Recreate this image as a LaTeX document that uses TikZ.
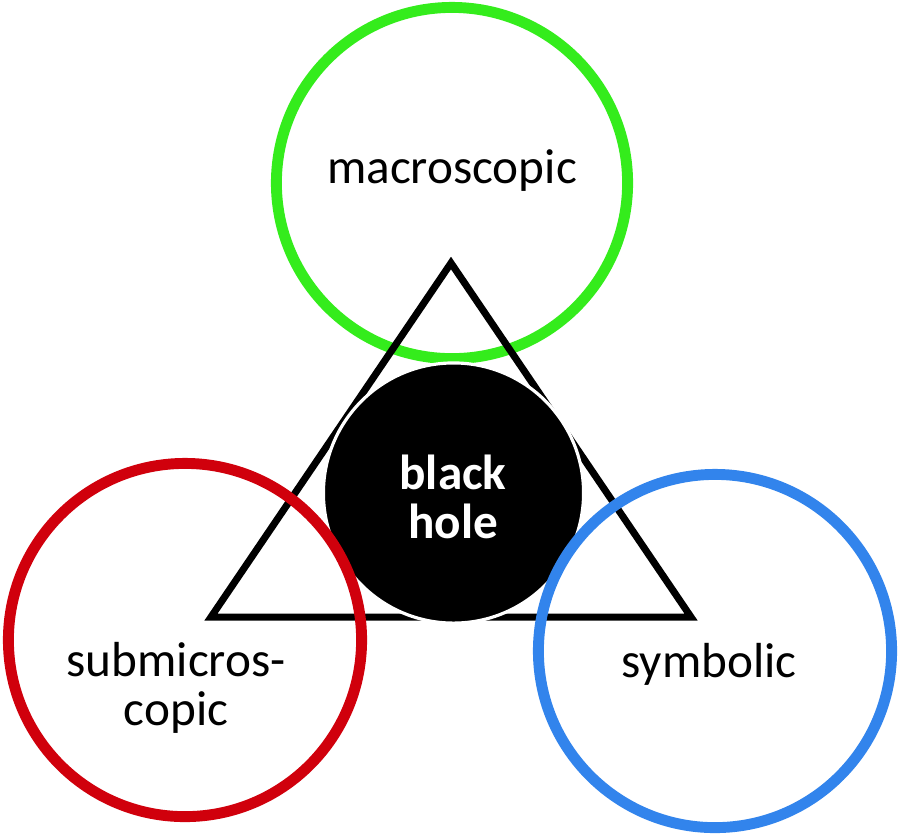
\documentclass[tikz,border=0pt]{standalone}
\usepackage{fontspec}
\setmainfont{Carlito}
\definecolor{macrogreen}{RGB}{52,236,28}
\definecolor{submicrored}{RGB}{208,0,12}
\definecolor{symbolblue}{RGB}{50,132,236}
\tikzset{
  ring/.style={line width=3.1pt},
  levellabel/.style={font=\fontsize{14pt}{13.7pt}\selectfont, inner sep=0pt, align=center},
}
\begin{document}
\begin{tikzpicture}[x=0.01cm,y=-0.01cm]
    \useasboundingbox (0,0) rectangle (900,838);

    % macroscopic level
    \draw[ring, macrogreen] (452,183) circle[radius=1.755cm];

    % triangle of levels
    \draw[line width=2pt, miter limit=10] (451,263) -- (211,617) -- (691,617) -- cycle;

    % black hole in the middle
    \draw[fill=black, draw=white, line width=0.9pt] (453.5,493) circle[radius=1.30cm];
    \node[levellabel, text=white, font=\fontsize{14pt}{13.7pt}\selectfont\bfseries, anchor=base] (hole) at (453,538) {black\\hole};

    % submicroscopic and symbolic levels
    \draw[ring, submicrored] (185,640) circle[radius=1.765cm];
    \draw[ring, symbolblue] (715,651) circle[radius=1.765cm];

    % level names (base = last line)
    \node[levellabel, anchor=base] (macro) at (452,183) {macroscopic};
    \node[levellabel, anchor=base] (submicro) at (176,725) {submicros-\\copic};
    \node[levellabel, anchor=base] (symbol) at (709,677) {symbolic};
\end{tikzpicture}
\end{document}
